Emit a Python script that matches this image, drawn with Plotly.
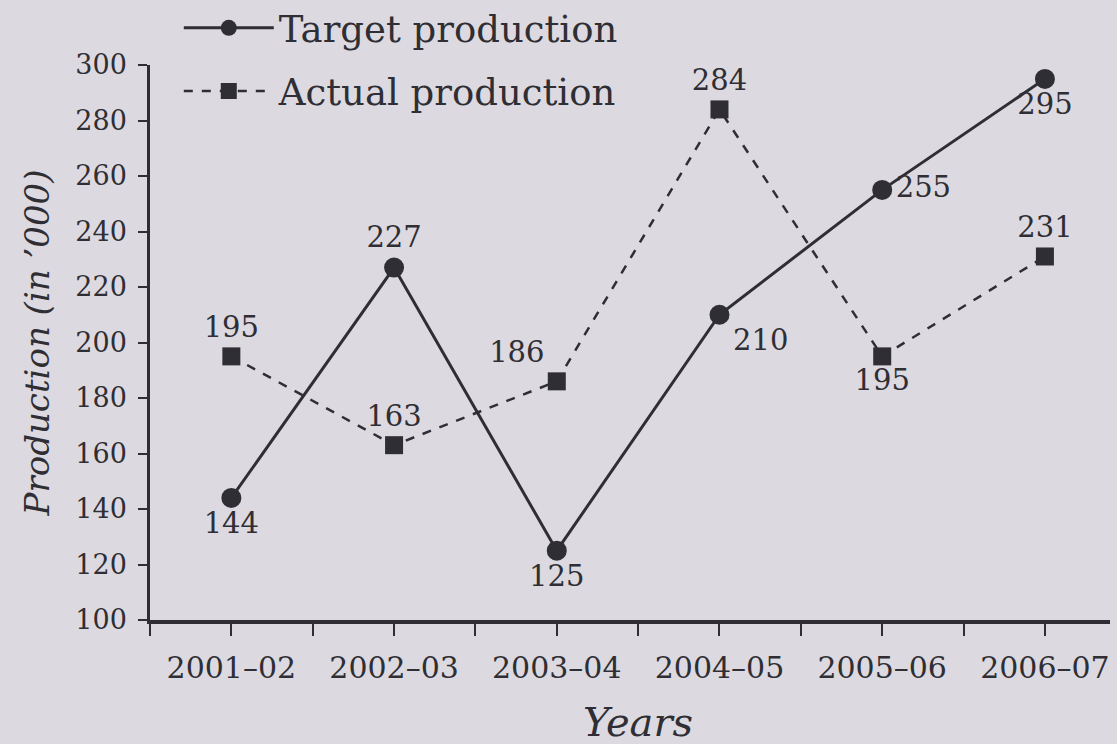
import plotly.graph_objects as go

years = ["2001–02", "2002–03", "2003–04", "2004–05", "2005–06", "2006–07"]
target = [144, 227, 125, 210, 255, 295]
actual = [195, 163, 186, 284, 195, 231]
target_pos = ["bottom center", "top center", "bottom center", "bottom right", "middle right", "bottom center"]
actual_pos = ["top center", "top center", "top left", "top center", "bottom center", "top center"]

ink = "#2f2e34"
bg = "#dcdae0"
font = "DejaVu Serif"
xs = list(range(len(years)))

fig = go.Figure()
fig.add_trace(go.Scatter(
    x=xs, y=target, name="Target production", mode="lines+markers+text",
    line=dict(color=ink, width=3),
    marker=dict(symbol="circle", size=20, color=ink),
    text=[str(v) for v in target], textposition=target_pos,
    textfont=dict(family=font, size=29, color=ink),
    cliponaxis=False, legendgroup="a",
))
fig.add_trace(go.Scatter(
    x=xs, y=actual, name="Actual production", mode="lines+markers+text",
    line=dict(color=ink, width=2.5, dash="dash"),
    marker=dict(symbol="square", size=18, color=ink),
    text=[str(v) for v in actual], textposition=actual_pos,
    textfont=dict(family=font, size=29, color=ink),
    cliponaxis=False, legendgroup="b",
))

fig.update_layout(
    width=1117, height=744,
    margin=dict(l=150, r=7, t=65, b=124, autoexpand=False),
    paper_bgcolor=bg, plot_bgcolor=bg,
    font=dict(family=font, size=26, color=ink),
    showlegend=True,
    legend=dict(x=0.03, y=1.122, xanchor="left", yanchor="top",
                bgcolor="rgba(0,0,0,0)", font=dict(family=font, size=37, color=ink),
                tracegroupgap=12, itemwidth=90),
    xaxis=dict(
        range=[-0.5, 5.4], tickmode="array", tickvals=xs, ticktext=years,
        showgrid=False, zeroline=False, showline=True, linecolor=ink, linewidth=3.5,
        ticks="outside", ticklen=12, tickwidth=2, tickcolor=ink,
        minor=dict(tickmode="array", tickvals=[x + 0.5 for x in xs[:-1]] + [-0.5],
                   ticks="outside", ticklen=12, tickwidth=2, tickcolor=ink),
        tickfont=dict(family=font, size=30, color=ink),
        ticklabelstandoff=6, automargin=False,
    ),
    yaxis=dict(
        range=[100, 300], tickmode="linear", tick0=100, dtick=20,
        showgrid=False, zeroline=False, showline=True, linecolor=ink, linewidth=2.5,
        ticks="outside", ticklen=9, tickwidth=2, tickcolor=ink,
        tickfont=dict(family=font, size=27, color=ink),
        ticklabelstandoff=6, automargin=False,
        title=dict(text="<i>Production (in ’000)</i>", font=dict(family=font, size=34, color=ink), standoff=16),
    ),
    annotations=[dict(text="<i>Years</i>", xref="paper", yref="paper", x=0.508, y=-0.184,
                      xanchor="center", yanchor="middle", showarrow=False,
                      font=dict(family=font, size=40, color=ink))],
)

fig.write_html("out.html", config={"displayModeBar": False},
               post_script="document.body.style.margin='0';")
